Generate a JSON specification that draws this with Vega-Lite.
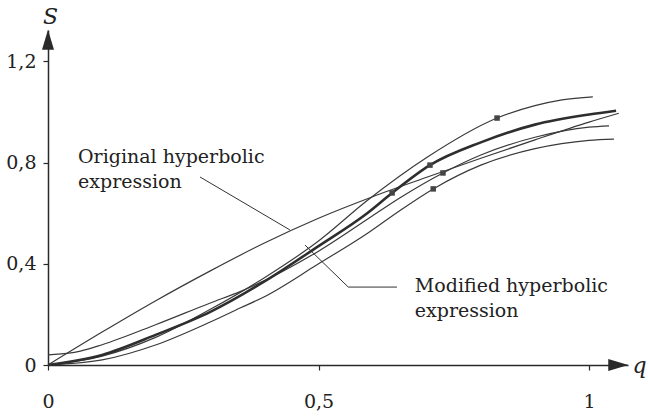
{
  "$schema": "https://vega.github.io/schema/vega-lite/v6.json",
  "width": 580,
  "height": 335,
  "autosize": {"type": "none"},
  "padding": {"left": 48, "top": 30, "right": 20, "bottom": 53},
  "background": "white",
  "config": {"view": {"stroke": null}, "font": "DejaVu Serif"},
  "datasets": {
    "curves": [
      {"series": "Original", "q": 0, "S": 0},
      {"series": "Original", "q": 0.1, "S": 0.13},
      {"series": "Original", "q": 0.2, "S": 0.255},
      {"series": "Original", "q": 0.3, "S": 0.372},
      {"series": "Original", "q": 0.4, "S": 0.482},
      {"series": "Original", "q": 0.5, "S": 0.58},
      {"series": "Original", "q": 0.6, "S": 0.665},
      {"series": "Original", "q": 0.7, "S": 0.742},
      {"series": "Original", "q": 0.8, "S": 0.817},
      {"series": "Original", "q": 0.9, "S": 0.89},
      {"series": "Original", "q": 1.0, "S": 0.96},
      {"series": "Original", "q": 1.055, "S": 0.995},
      {"series": "Modified", "q": 0, "S": 0},
      {"series": "Modified", "q": 0.1, "S": 0.04},
      {"series": "Modified", "q": 0.2, "S": 0.12},
      {"series": "Modified", "q": 0.3, "S": 0.21},
      {"series": "Modified", "q": 0.4, "S": 0.33},
      {"series": "Modified", "q": 0.5, "S": 0.47},
      {"series": "Modified", "q": 0.59, "S": 0.6},
      {"series": "Modified", "q": 0.636, "S": 0.68},
      {"series": "Modified", "q": 0.706, "S": 0.79},
      {"series": "Modified", "q": 0.8, "S": 0.88},
      {"series": "Modified", "q": 0.9, "S": 0.95},
      {"series": "Modified", "q": 1.0, "S": 0.99},
      {"series": "Modified", "q": 1.05, "S": 1.005},
      {"series": "C1", "q": 0, "S": 0},
      {"series": "C1", "q": 0.1, "S": 0.035},
      {"series": "C1", "q": 0.2, "S": 0.11},
      {"series": "C1", "q": 0.3, "S": 0.22},
      {"series": "C1", "q": 0.4, "S": 0.345},
      {"series": "C1", "q": 0.5, "S": 0.49},
      {"series": "C1", "q": 0.59, "S": 0.65},
      {"series": "C1", "q": 0.7, "S": 0.82},
      {"series": "C1", "q": 0.83, "S": 0.976},
      {"series": "C1", "q": 0.9, "S": 1.025},
      {"series": "C1", "q": 0.95, "S": 1.048},
      {"series": "C1", "q": 1.007, "S": 1.06},
      {"series": "C3", "q": 0, "S": 0.04},
      {"series": "C3", "q": 0.06, "S": 0.055},
      {"series": "C3", "q": 0.1, "S": 0.08},
      {"series": "C3", "q": 0.2, "S": 0.16},
      {"series": "C3", "q": 0.3, "S": 0.245},
      {"series": "C3", "q": 0.355, "S": 0.29},
      {"series": "C3", "q": 0.5, "S": 0.45},
      {"series": "C3", "q": 0.6, "S": 0.59},
      {"series": "C3", "q": 0.65, "S": 0.66},
      {"series": "C3", "q": 0.73, "S": 0.759},
      {"series": "C3", "q": 0.8, "S": 0.83},
      {"series": "C3", "q": 0.9, "S": 0.9},
      {"series": "C3", "q": 1.0, "S": 0.94},
      {"series": "C3", "q": 1.037, "S": 0.945},
      {"series": "C4", "q": 0, "S": 0},
      {"series": "C4", "q": 0.1, "S": 0.02},
      {"series": "C4", "q": 0.2, "S": 0.08},
      {"series": "C4", "q": 0.3, "S": 0.17},
      {"series": "C4", "q": 0.355, "S": 0.225},
      {"series": "C4", "q": 0.4, "S": 0.27},
      {"series": "C4", "q": 0.5, "S": 0.4},
      {"series": "C4", "q": 0.59, "S": 0.52},
      {"series": "C4", "q": 0.65, "S": 0.61},
      {"series": "C4", "q": 0.712, "S": 0.696},
      {"series": "C4", "q": 0.8, "S": 0.79},
      {"series": "C4", "q": 0.9, "S": 0.855},
      {"series": "C4", "q": 1.0, "S": 0.888},
      {"series": "C4", "q": 1.046, "S": 0.893}
    ],
    "markers": [
      {"q": 0.83, "S": 0.976},
      {"q": 0.706, "S": 0.79},
      {"q": 0.636, "S": 0.68},
      {"q": 0.73, "S": 0.759},
      {"q": 0.712, "S": 0.696}
    ],
    "leaders": [
      {"id": "orig", "ord": 1, "q": 0.281, "S": 0.743},
      {"id": "orig", "ord": 2, "q": 0.447, "S": 0.534},
      {"id": "mod", "ord": 1, "q": 0.475, "S": 0.474},
      {"id": "mod", "ord": 2, "q": 0.555, "S": 0.308},
      {"id": "mod", "ord": 3, "q": 0.645, "S": 0.308}
    ],
    "labels": [
      {"text": "Original hyperbolic", "q": 0.0555, "S": 0.798},
      {"text": "expression", "q": 0.0555, "S": 0.70},
      {"text": "Modified hyperbolic", "q": 0.678, "S": 0.289},
      {"text": "expression", "q": 0.678, "S": 0.19}
    ],
    "xarrow": [{"q": 1.054, "S": 0}],
    "yarrow": [{"q": 0, "S": 1.285}]
  },
  "layer": [
    {
      "data": {"name": "curves"},
      "transform": [{"filter": "datum.series !== 'Modified'"}],
      "mark": {"type": "line", "interpolate": "monotone", "color": "#3a3a3a", "strokeWidth": 1.2, "clip": true},
      "encoding": {
        "x": {
          "field": "q", "type": "quantitative",
          "scale": {"domain": [0, 1.072], "nice": false, "zero": false},
          "axis": {
            "values": [0, 0.5, 1], "format": "~g",
            "labelExpr": "replace(datum.label, '.', ',')",
            "grid": false, "domainColor": "#2a2a2a", "domainWidth": 1.5,
            "tickColor": "#2a2a2a", "tickSize": 5, "tickWidth": 1.2,
            "labelFont": "DejaVu Serif", "labelFontSize": 19, "labelColor": "#222",
            "labelPadding": 22, "labelFlush": false,
            "title": "q", "titleFont": "DejaVu Serif", "titleFontStyle": "italic",
            "titleFontWeight": "normal", "titleFontSize": 22, "titleColor": "#222",
            "titleX": 591, "titleY": 7, "titleAlign": "center", "titleBaseline": "alphabetic", "titleAngle": 0
          }
        },
        "y": {
          "field": "S", "type": "quantitative",
          "scale": {"domain": [0, 1.324], "nice": false, "zero": false},
          "axis": {
            "values": [0, 0.4, 0.8, 1.2], "format": "~g",
            "labelExpr": "replace(datum.label, '.', ',')",
            "grid": false, "domainColor": "#2a2a2a", "domainWidth": 1.5,
            "tickColor": "#2a2a2a", "tickSize": 5, "tickWidth": 1.2,
            "labelFont": "DejaVu Serif", "labelFontSize": 19, "labelColor": "#222",
            "labelPadding": 7, "labelFlush": false,
            "title": "S", "titleFont": "DejaVu Serif", "titleFontStyle": "italic",
            "titleFontWeight": "normal", "titleFontSize": 22, "titleColor": "#222",
            "titleX": 2, "titleY": -7, "titleAlign": "center", "titleBaseline": "alphabetic", "titleAngle": 0
          }
        },
        "detail": {"field": "series"}
      }
    },
    {
      "data": {"name": "curves"},
      "transform": [{"filter": "datum.series === 'Modified'"}],
      "mark": {"type": "line", "interpolate": "monotone", "color": "#2e2e2e", "strokeWidth": 2.6},
      "encoding": {
        "x": {"field": "q", "type": "quantitative"},
        "y": {"field": "S", "type": "quantitative"}
      }
    },
    {
      "data": {"name": "markers"},
      "mark": {"type": "point", "shape": "square", "filled": true, "size": 30, "color": "#444", "opacity": 1},
      "encoding": {
        "x": {"field": "q", "type": "quantitative"},
        "y": {"field": "S", "type": "quantitative"}
      }
    },
    {
      "data": {"name": "leaders"},
      "mark": {"type": "line", "color": "#333", "strokeWidth": 1},
      "encoding": {
        "x": {"field": "q", "type": "quantitative"},
        "y": {"field": "S", "type": "quantitative"},
        "detail": {"field": "id"},
        "order": {"field": "ord"}
      }
    },
    {
      "data": {"name": "labels"},
      "mark": {"type": "text", "align": "left", "baseline": "alphabetic", "font": "DejaVu Serif", "fontSize": 19, "color": "#222"},
      "encoding": {
        "x": {"field": "q", "type": "quantitative"},
        "y": {"field": "S", "type": "quantitative"},
        "text": {"field": "text"}
      }
    },
    {
      "data": {"name": "xarrow"},
      "mark": {"type": "point", "shape": "M-1,-0.6L1,0L-1,0.6Z", "size": 400, "filled": true, "color": "#2a2a2a", "opacity": 1, "clip": false},
      "encoding": {
        "x": {"field": "q", "type": "quantitative"},
        "y": {"field": "S", "type": "quantitative"}
      }
    },
    {
      "data": {"name": "yarrow"},
      "mark": {"type": "point", "shape": "M-0.6,1L0,-1L0.6,1Z", "size": 400, "filled": true, "color": "#2a2a2a", "opacity": 1, "clip": false},
      "encoding": {
        "x": {"field": "q", "type": "quantitative"},
        "y": {"field": "S", "type": "quantitative"}
      }
    }
  ]
}
